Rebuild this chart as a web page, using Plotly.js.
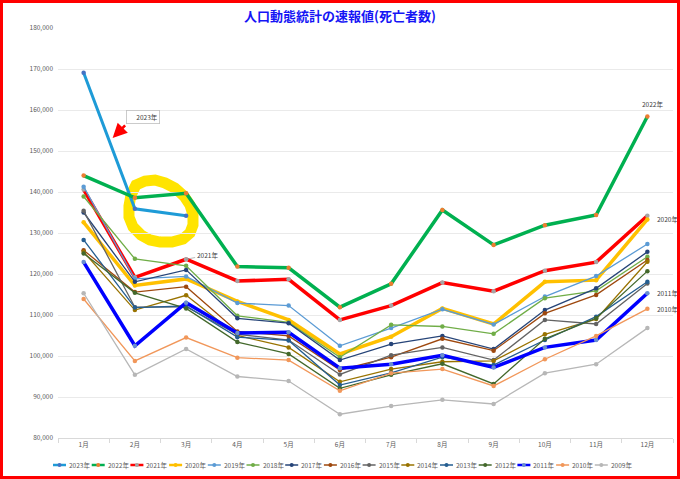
<!DOCTYPE html>
<html><head><meta charset="utf-8">
<script src="https://cdn.plot.ly/plotly-3.0.1.min.js"></script>
<style>
html,body{margin:0;padding:0;background:#fff}
#wrap{position:relative;width:680px;height:479px}
#chart{width:680px;height:479px}
#frame{position:absolute;left:0;top:0;width:680px;height:479px;box-sizing:border-box;border:3px solid #ff0000;pointer-events:none}
</style>
</head><body>
<div id="wrap"><div id="chart"></div><div id="frame"></div></div>
<script>
// ---- data ----
const months = ['1月','2月','3月','4月','5月','6月','7月','8月','9月','10月','11月','12月'];
const years = ['2023年','2022年','2021年','2020年','2019年','2018年','2017年','2016年','2015年','2014年','2013年','2012年','2011年','2010年','2009年'];
const y2023 = [169100, 135900, 134200];
const y2022 = [144000, 138600, 139700, 121800, 121500, 111900, 117600, 135600, 127100, 131900, 134400, 158400];
const y2021 = [140600, 119200, 123600, 118300, 118700, 108800, 112300, 117900, 115800, 120800, 122900, 134200];
const y2020 = [132600, 117200, 118800, 113300, 108800, 100500, 104700, 111600, 107800, 118100, 118500, 133300];
const y2019 = [141300, 118800, 119400, 112900, 112300, 102500, 106800, 111400, 107700, 114500, 119500, 127300];
const y2018 = [138900, 123700, 122000, 109800, 108200, 99700, 107600, 107200, 105400, 114100, 115900, 124200];
const y2017 = [135000, 118100, 121000, 109200, 108000, 99000, 102900, 104900, 101700, 111200, 116500, 125400];
const y2016 = [125800, 115600, 116900, 106000, 104900, 96600, 99700, 104200, 101300, 110400, 114900, 123400];
const y2015 = [135400, 111900, 112000, 105300, 103900, 95500, 100200, 102100, 99000, 108800, 107800, 117700];
const y2014 = [125400, 111200, 114800, 105000, 102100, 93700, 96800, 98600, 98800, 105300, 109000, 123000];
const y2013 = [128300, 111800, 112200, 104600, 103800, 92900, 95900, 99700, 97800, 103900, 109600, 118100];
const y2012 = [125000, 115400, 111600, 103400, 100500, 92100, 95400, 98100, 93200, 104200, 109200, 120700];
const y2011 = [122900, 102500, 113000, 105600, 105800, 97000, 98000, 100200, 97200, 102100, 103900, 115300];
const y2010 = [113900, 98800, 104500, 99600, 99000, 91500, 95800, 96800, 92700, 99200, 104900, 111500];
const y2009 = [115300, 95400, 101700, 95000, 93900, 85800, 87800, 89300, 88300, 95800, 98000, 106800];
const seriesData = [y2023,y2022,y2021,y2020,y2019,y2018,y2017,y2016,y2015,y2014,y2013,y2012,y2011,y2010,y2009];

// ---- styles ----
const styles = [
  {c:'#1E9BD7', m:'#4472C4', w:3},
  {c:'#00B050', m:'#ED7D31', w:3.5},
  {c:'#FF0000', m:'#A5A5A5', w:3.5},
  {c:'#FFC000', m:'#FFC000', w:3.5},
  {c:'#5B9BD5', m:'#5B9BD5', w:1.3},
  {c:'#70AD47', m:'#70AD47', w:1.3},
  {c:'#264478', m:'#264478', w:1.3},
  {c:'#9E480E', m:'#9E480E', w:1.3},
  {c:'#636363', m:'#636363', w:1.3},
  {c:'#997300', m:'#997300', w:1.3},
  {c:'#255E91', m:'#255E91', w:1.3},
  {c:'#43682B', m:'#43682B', w:1.3},
  {c:'#0000FF', m:'#698ED0', w:3.5},
  {c:'#F1975A', m:'#F1975A', w:1.3},
  {c:'#B7B7B7', m:'#B7B7B7', w:1.3}
];
const FONT = '"Noto Sans CJK JP", "Noto Sans", sans-serif';
const M = {l:58, r:7, t:28, b:41};
const PW = 680 - M.l - M.r, PH = 479 - M.t - M.b;
const px = x => (x - M.l) / PW;
const py = y => (479 - M.b - y) / PH;

const traces = seriesData.map((d, i) => ({
  type:'scatter', mode:'lines+markers', name: years[i],
  x: months.slice(0, d.length), y: d,
  line:{color: styles[i].c, width: styles[i].w},
  marker:{color: styles[i].m, size: 4.5},
  showlegend:false, hoverinfo:'x+y+name'
}));

const shapes = [];
const annotations = [];

// highlight loop (decoration)
const loop = [[136,185],[145,181],[155,180],[165,183],[175,188],[184,196],[190,205],[193,215],[193,225],[190,233],[183,239],[172,242],[160,242],[150,240],[141,235],[133,227],[129,217],[129,206],[131,195]];
shapes.push({type:'path', xref:'paper', yref:'paper', layer:'below',
  path: loop.map((p,k)=>(k?'L':'M')+px(p[0]).toFixed(4)+','+py(p[1]).toFixed(4)).join(' ') + ' Z',
  line:{color:'#FFE400', width:11}});

// custom legend
const legY = 465;
years.forEach((name, i) => {
  const x0 = 53 + i * 38.7;
  shapes.push({type:'line', xref:'paper', yref:'paper', x0:px(x0), x1:px(x0+13), y0:py(legY), y1:py(legY),
    line:{color: styles[i].c, width: styles[i].w > 2 ? 2.5 : 1.5}});
  shapes.push({type:'circle', xref:'paper', yref:'paper', xsizemode:'pixel', ysizemode:'pixel',
    xanchor:px(x0+6.5), yanchor:py(legY), x0:-2, x1:2, y0:-2, y1:2,
    fillcolor: styles[i].m, line:{width:0}});
  annotations.push({xref:'paper', yref:'paper', x:px(x0+14), y:py(legY), xanchor:'left', yanchor:'middle',
    text:name, showarrow:false, font:{size:6.5, color:'#595959', family:FONT}});
});

// callouts
annotations.push({xref:'x', yref:'y', x:0.566, y:153200, ax:14, ay:-14, text:'', showarrow:true,
  arrowhead:2, arrowsize:1.1, arrowwidth:2.6, arrowcolor:'#FF0000'});
annotations.push({xref:'x', yref:'y', x:1.15, y:158400, text:'2023年', showarrow:false, width:30, align:'right',
  bordercolor:'#BFBFBF', borderwidth:0.8, borderpad:1, bgcolor:'#ffffff',
  font:{size:6.5, color:'#404040', family:FONT}});
annotations.push({xref:'x', yref:'y', x:11, y:y2022[11], xshift:5, yshift:12.5, text:'2022年', showarrow:false,
  font:{size:6.5, color:'#404040', family:FONT}});
annotations.push({xref:'x', yref:'y', x:2, y:y2021[2], ax:21, ay:-4, text:'2021年', showarrow:true,
  arrowhead:0, arrowwidth:0.6, arrowcolor:'#8c8c8c', font:{size:6.5, color:'#404040', family:FONT}});
[['2020年', y2020], ['2011年', y2011], ['2010年', y2010]].forEach(([t, arr]) => {
  annotations.push({xref:'x', yref:'y', x:11, y:arr[11], xshift:20, text:t, showarrow:false,
    font:{size:6.5, color:'#404040', family:FONT}});
});

const layout = {
  width:680, height:479, margin:M,
  paper_bgcolor:'#ffffff', plot_bgcolor:'#ffffff',
  font:{family:FONT, color:'#595959'},
  title:{text:'<b>人口動態統計の速報値(死亡者数)</b>', font:{size:13, color:'#1515F5', family:FONT},
    x:0.5, xref:'container', y:1-16/479, yref:'container', yanchor:'middle'},
  xaxis:{type:'category', categoryorder:'array', categoryarray:months, range:[-0.5, 11.5],
    showgrid:false, showline:true, linecolor:'#D9D9D9', linewidth:1,
    ticks:'outside', tickson:'boundaries', ticklen:4, tickcolor:'#D9D9D9',
    tickfont:{size:6.5, color:'#595959', family:FONT}, fixedrange:true},
  yaxis:{range:[80000,180000], dtick:10000, tickformat:',d', showgrid:true, gridcolor:'#EAEAEA', gridwidth:1,
    zeroline:false, showline:false, ticks:'', ticklabelstandoff:4,
    tickfont:{size:6.5, color:'#595959', family:FONT}, fixedrange:true},
  shapes: shapes, annotations: annotations, showlegend:false
};
Plotly.newPlot('chart', traces, layout, {displayModeBar:false, staticPlot:true});
</script>
</body></html>
